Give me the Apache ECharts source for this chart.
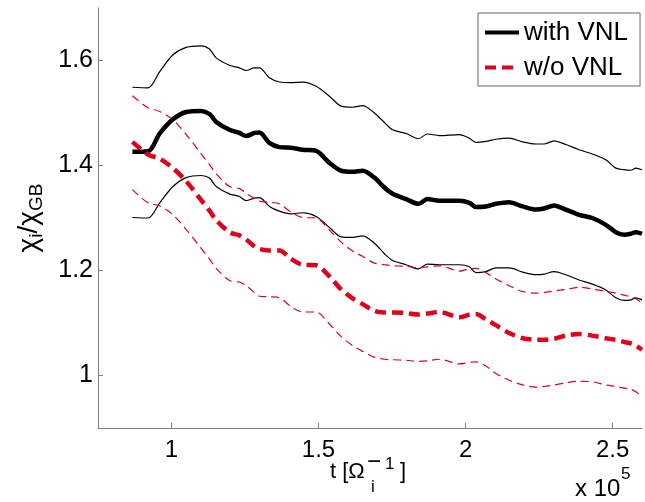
<!DOCTYPE html>
<html>
<head>
<meta charset="utf-8">
<script src="https://cdn.jsdelivr.net/npm/echarts@6/dist/echarts.min.js"></script>
<style>
html,body{margin:0;padding:0;background:#fff;}
#chart{width:645px;height:502px;}
</style>
</head>
<body>
<div id="chart"></div>
<script>
// time in units of 1e5 / Omega_i
const t = [0.867,0.920,0.960,1.005,1.050,1.101,1.129,1.152,1.197,1.231,1.254,1.282,1.299,1.333,1.367,1.407,1.446,1.492,1.537,1.577,1.616,1.650,1.690,1.724,1.752,1.798,1.840,1.870,1.911,1.979,2.013,2.035,2.069,2.103,2.148,2.194,2.239,2.267,2.301,2.341,2.386,2.431,2.477,2.511,2.539,2.562,2.579,2.600];

const withMean = [1.426,1.427,1.461,1.488,1.502,1.504,1.498,1.483,1.468,1.462,1.456,1.462,1.463,1.443,1.435,1.434,1.430,1.428,1.405,1.390,1.388,1.390,1.377,1.358,1.346,1.336,1.327,1.336,1.333,1.333,1.329,1.321,1.322,1.327,1.330,1.322,1.316,1.318,1.324,1.316,1.306,1.300,1.287,1.273,1.268,1.270,1.273,1.270];
const withUpper = [1.549,1.548,1.579,1.611,1.625,1.628,1.622,1.605,1.591,1.586,1.581,1.586,1.586,1.567,1.559,1.558,1.559,1.551,1.532,1.513,1.511,1.514,1.500,1.482,1.468,1.461,1.451,1.460,1.457,1.459,1.452,1.444,1.446,1.450,1.452,1.445,1.441,1.441,1.447,1.440,1.430,1.422,1.411,1.395,1.392,1.391,1.395,1.392];
const withLower = [1.301,1.300,1.329,1.360,1.377,1.381,1.376,1.360,1.346,1.341,1.333,1.338,1.339,1.322,1.313,1.308,1.310,1.303,1.282,1.264,1.263,1.266,1.252,1.232,1.219,1.211,1.203,1.212,1.211,1.211,1.207,1.196,1.198,1.205,1.205,1.197,1.192,1.193,1.198,1.192,1.182,1.174,1.163,1.148,1.143,1.144,1.148,1.144];

const woMean = [1.445,1.421,1.413,1.395,1.370,1.334,1.314,1.296,1.273,1.267,1.259,1.246,1.241,1.238,1.238,1.222,1.211,1.210,1.189,1.164,1.147,1.136,1.123,1.120,1.120,1.119,1.116,1.118,1.121,1.111,1.116,1.117,1.107,1.096,1.081,1.071,1.068,1.068,1.070,1.076,1.079,1.076,1.071,1.068,1.064,1.061,1.057,1.049];
const woUpper = [1.533,1.510,1.503,1.487,1.459,1.422,1.402,1.384,1.360,1.356,1.347,1.337,1.332,1.330,1.327,1.311,1.301,1.300,1.277,1.254,1.237,1.227,1.214,1.211,1.209,1.208,1.205,1.207,1.209,1.199,1.203,1.204,1.196,1.184,1.171,1.160,1.157,1.158,1.161,1.164,1.168,1.165,1.160,1.157,1.153,1.150,1.146,1.138];
const woLower = [1.354,1.329,1.323,1.306,1.278,1.242,1.222,1.204,1.181,1.178,1.171,1.158,1.151,1.150,1.148,1.131,1.121,1.121,1.098,1.074,1.057,1.046,1.035,1.031,1.030,1.029,1.027,1.028,1.031,1.022,1.025,1.026,1.018,1.004,0.991,0.982,0.978,0.979,0.982,0.986,0.989,0.988,0.982,0.979,0.976,0.974,0.969,0.960];

const xTicks = [1, 1.5, 2, 2.5];
const yTicks = [1, 1.2, 1.4, 1.6];
const seriesNames = ['with VNL', 'w/o VNL'];

const FONT = 'Liberation Sans, Arial, Helvetica, sans-serif';
const RED = '#e0001b';
const AXIS = '#7f7f7f';

function pairs(v){ return t.map((x,i)=>[x, v[i]]); }

function line(name, data, color, width, type){
  return {
    type:'line', name:name, data:pairs(data), symbol:'none', showSymbol:false, smooth:0.3,
    lineStyle:{color:color, width:width, type:type},
    itemStyle:{color:color},
    emphasis:{disabled:true}, silent:true, z: width>2 ? 3 : 2
  };
}

const chart = echarts.init(document.getElementById('chart'), null, {renderer:'canvas'});
chart.setOption({
  animation:false,
  backgroundColor:'#fff',
  grid:{left:98, right:3, top:8, bottom:74, outerBoundsMode:'none', containLabel:false},
  legend:{
    data:seriesNames, orient:'vertical', left:478, top:13,
    padding:[6,12,5,5], itemGap:8, itemWidth:34, itemHeight:14,
    borderColor:'#666', borderWidth:1, backgroundColor:'#fff', borderRadius:0,
    selectedMode:false,
    itemStyle:{opacity:0, borderWidth:0},
    lineStyle:{width:4},
    textStyle:{fontSize:26, fontFamily:FONT, color:'#000', lineHeight:27}
  },
  xAxis:{
    type:'value', min:0.75, max:2.6,
    axisLine:{show:true, lineStyle:{color:AXIS, width:1}},
    axisTick:{show:true, inside:true, length:5, customValues:xTicks, lineStyle:{color:AXIS}},
    axisLabel:{customValues:xTicks, fontSize:24, fontFamily:FONT, color:'#000', margin:10,
      formatter:v=>String(v)},
    splitLine:{show:false}
  },
  yAxis:{
    type:'value', min:0.9, max:1.7,
    axisLine:{show:true, lineStyle:{color:AXIS, width:1}},
    axisTick:{show:true, inside:true, length:5, customValues:yTicks, lineStyle:{color:AXIS}},
    axisLabel:{customValues:yTicks, fontSize:25, fontFamily:FONT, color:'#000', margin:5,
      formatter:v=> (Math.abs(v-1)<1e-9 ? '1' : v.toFixed(1))},
    splitLine:{show:false},
    name:'{m|χ}{s|i}{m|/χ}{s|GB}',
    nameLocation:'middle', nameGap:52, nameRotate:90,
    nameTextStyle:{
      color:'#000', fontFamily:FONT,
      rich:{
        m:{fontSize:28, fontFamily:FONT, color:'#000'},
        s:{fontSize:19, fontFamily:FONT, color:'#000', padding:[14,0,0,0]}
      }
    }
  },
  graphic:[
    {type:'text', silent:true, style:{x:330, y:472, text:'t [Ω', font:'22px '+FONT, fill:'#000', align:'left', verticalAlign:'middle'}},
    {type:'text', silent:true, style:{x:367, y:462, text:'−', font:'24px '+FONT, fill:'#000', align:'left', verticalAlign:'middle'}},
    {type:'text', silent:true, style:{x:385, y:464, text:'1', font:'17px '+FONT, fill:'#000', align:'left', verticalAlign:'middle'}},
    {type:'text', silent:true, style:{x:371, y:487, text:'i', font:'17px '+FONT, fill:'#000', align:'left', verticalAlign:'middle'}},
    {type:'text', silent:true, style:{x:400, y:472, text:']', font:'22px '+FONT, fill:'#000', align:'left', verticalAlign:'middle'}},
    {type:'text', silent:true, style:{x:575, y:489, text:'x 10', font:'24px '+FONT, fill:'#000', align:'left', verticalAlign:'middle'}},
    {type:'text', silent:true, style:{x:621, y:474, text:'5', font:'17px '+FONT, fill:'#000', align:'left', verticalAlign:'middle'}}
  ],
  series:[
    line(null, withUpper, '#000', 1.2, 'solid'),
    line(null, withLower, '#000', 1.2, 'solid'),
    line(null, woUpper, RED, 1.2, [8,5]),
    line(null, woLower, RED, 1.2, [8,5]),
    line(seriesNames[0], withMean, '#000', 4.5, 'solid'),
    line(seriesNames[1], woMean, RED, 4.5, [11,6])
  ]
});
</script>
</body>
</html>
